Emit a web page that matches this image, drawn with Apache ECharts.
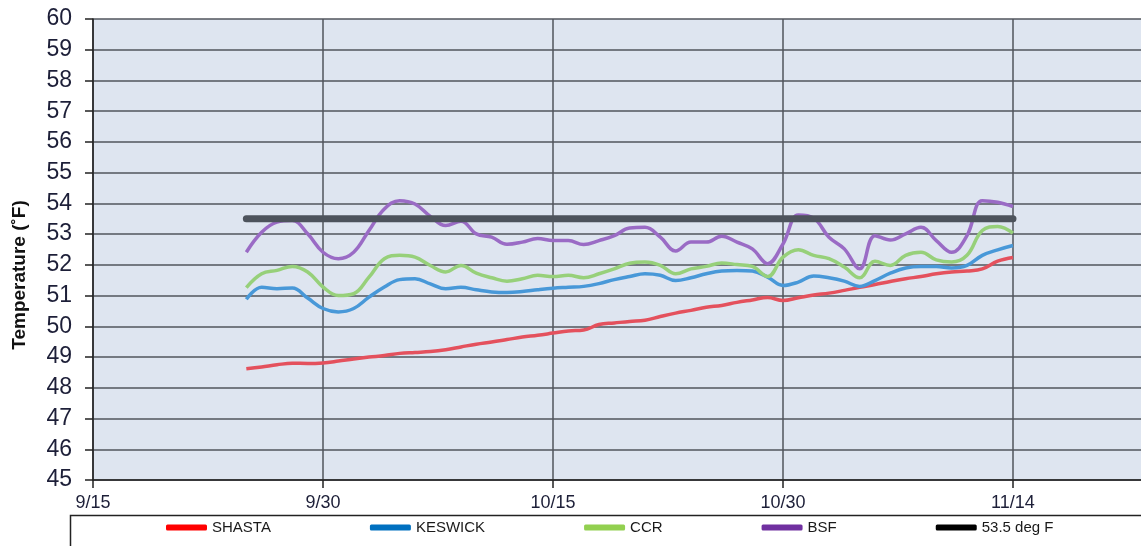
<!DOCTYPE html>
<html>
<head>
<meta charset="utf-8">
<script src="https://cdn.jsdelivr.net/npm/echarts@6/dist/echarts.min.js"></script>
<style>
  html, body { margin: 0; padding: 0; background: #fff; }
  #chart { width: 1141px; height: 546px; }
</style>
</head>
<body>
<div id="chart"></div>
<script>
// daily readings 9/25 .. 11/14
var dates = ['9/25','9/26','9/27','9/28','9/29','9/30','10/1','10/2','10/3','10/4','10/5','10/6','10/7','10/8','10/9','10/10','10/11','10/12','10/13','10/14','10/15','10/16','10/17','10/18','10/19','10/20','10/21','10/22','10/23','10/24','10/25','10/26','10/27','10/28','10/29','10/30','10/31','11/1','11/2','11/3','11/4','11/5','11/6','11/7','11/8','11/9','11/10','11/11','11/12','11/13','11/14'];

var shasta = [48.62,48.68,48.75,48.80,48.79,48.81,48.87,48.94,49.00,49.05,49.12,49.15,49.18,49.24,49.33,49.42,49.49,49.57,49.65,49.71,49.78,49.85,49.88,50.06,50.11,50.16,50.20,50.32,50.43,50.52,50.62,50.68,50.78,50.86,50.94,50.84,50.93,51.02,51.08,51.17,51.27,51.36,51.46,51.55,51.62,51.71,51.77,51.80,51.87,52.12,52.24];
var keswick = [50.88,51.27,51.22,51.25,50.92,50.58,50.47,50.58,50.95,51.28,51.52,51.55,51.38,51.22,51.27,51.19,51.12,51.10,51.13,51.19,51.24,51.27,51.30,51.39,51.52,51.62,51.71,51.66,51.49,51.58,51.71,51.80,51.82,51.80,51.60,51.33,51.44,51.64,51.58,51.47,51.30,51.49,51.73,51.90,51.95,51.95,51.90,51.98,52.31,52.49,52.63];
var ccr = [51.26,51.71,51.82,51.95,51.77,51.28,51.00,51.06,51.60,52.20,52.31,52.25,51.98,51.77,51.98,51.73,51.58,51.47,51.55,51.66,51.62,51.66,51.58,51.71,51.87,52.05,52.09,51.98,51.71,51.87,51.95,52.06,52.01,51.95,51.62,52.25,52.49,52.31,52.20,51.93,51.58,52.12,51.98,52.31,52.41,52.16,52.09,52.31,53.12,53.25,53.03];
var bsf = [52.41,53.06,53.39,53.44,53.01,52.41,52.20,52.41,53.12,53.82,54.09,53.98,53.58,53.28,53.42,53.01,52.90,52.67,52.74,52.86,52.79,52.79,52.66,52.79,52.95,53.20,53.22,52.90,52.45,52.74,52.74,52.93,52.74,52.52,52.04,52.68,53.62,53.52,52.90,52.52,51.87,52.95,52.81,53.01,53.22,52.79,52.41,52.95,54.09,54.04,53.90];
var target = 53.5;

var tickLabels = ['9/15', '9/30', '10/15', '10/30', '11/14'];
var startDate = '9/15';

function dayOf(md) {
  var p = md.split('/');
  var s = startDate.split('/');
  return Math.round((new Date(2011, +p[0] - 1, +p[1]) - new Date(2011, +s[0] - 1, +s[1])) / 86400000);
}
function pairs(vals) {
  return dates.map(function (d, i) { return [dayOf(d), vals[i]]; });
}

var chart = echarts.init(document.getElementById('chart'));
var gridColor = '#50555d';
var labelColor = '#1d1f38';

function line(name, vals, color) {
  return {
    name: name,
    type: 'line',
    data: pairs(vals),
    symbol: 'none',
    smooth: 0.4,
    lineStyle: { color: color, width: 3.5 },
    itemStyle: { color: color }
  };
}

chart.setOption({
  animation: false,
  grid: {
    left: 93, right: -2, top: 19, bottom: 66,
    outerBoundsMode: 'none',
    show: true, backgroundColor: '#dee5f0', borderWidth: 0
  },
  legend: {
    left: 166, top: 520, padding: 0,
    itemGap: 99, itemWidth: 41, itemHeight: 6,
    icon: 'roundRect',
    textStyle: { fontFamily: 'Liberation Sans', fontSize: 15, color: '#1a1a1a' },
    data: [
      { name: 'SHASTA', itemStyle: { color: '#ff0000' } },
      { name: 'KESWICK', itemStyle: { color: '#0070c0' } },
      { name: 'CCR', itemStyle: { color: '#92d050' } },
      { name: 'BSF', itemStyle: { color: '#7030a0' } },
      { name: '53.5 deg F', itemStyle: { color: '#000000' } }
    ]
  },
  graphic: [{
    type: 'rect', left: 68, top: 513, silent: true,
    shape: { width: 1200, height: 100 },
    style: { fill: 'none', stroke: '#222', lineWidth: 1.5 }
  }, {
    type: 'text', x: 20, y: 275, rotation: Math.PI / 2, silent: true,
    style: {
      text: 'Temperature (˚F)', fontFamily: 'Liberation Sans', fontSize: 19, fontWeight: 'bold',
      fill: '#111', align: 'center', verticalAlign: 'middle'
    }
  }],
  xAxis: {
    type: 'value', min: 0, max: 68.48, interval: 15,
    axisLine: { show: true, lineStyle: { color: '#222', width: 1.5 } },
    axisTick: { show: true, length: 8, lineStyle: { color: '#222', width: 1.5 } },
    splitLine: { show: true, lineStyle: { color: gridColor, width: 1.5 } },
    axisLabel: {
      margin: 14, fontFamily: 'Liberation Sans', fontSize: 18, color: labelColor,
      showMaxLabel: false,
      formatter: function (v) { return tickLabels[Math.round(v / 15)] || ''; }
    }
  },
  yAxis: {
    type: 'value', min: 45, max: 60, interval: 1,
    axisLine: { show: true, lineStyle: { color: '#222', width: 1.5 } },
    axisTick: { show: true, length: 8, lineStyle: { color: '#222', width: 1.5 } },
    splitLine: { show: true, lineStyle: { color: gridColor, width: 1.5 } },
    axisLabel: { margin: 21, fontFamily: 'Liberation Sans', fontSize: 23, color: labelColor }
  },
  series: [
    line('SHASTA', shasta, '#e4515d'),
    line('KESWICK', keswick, '#4898d8'),
    line('CCR', ccr, '#97d07a'),
    line('BSF', bsf, '#9a6bc5'),
    {
      name: '53.5 deg F', type: 'line', symbol: 'none',
      data: [[dayOf(dates[0]), target], [dayOf(dates[dates.length - 1]), target]],
      lineStyle: { color: '#4d535c', width: 7, cap: 'round' },
      itemStyle: { color: '#000' }
    }
  ]
});
</script>
</body>
</html>
